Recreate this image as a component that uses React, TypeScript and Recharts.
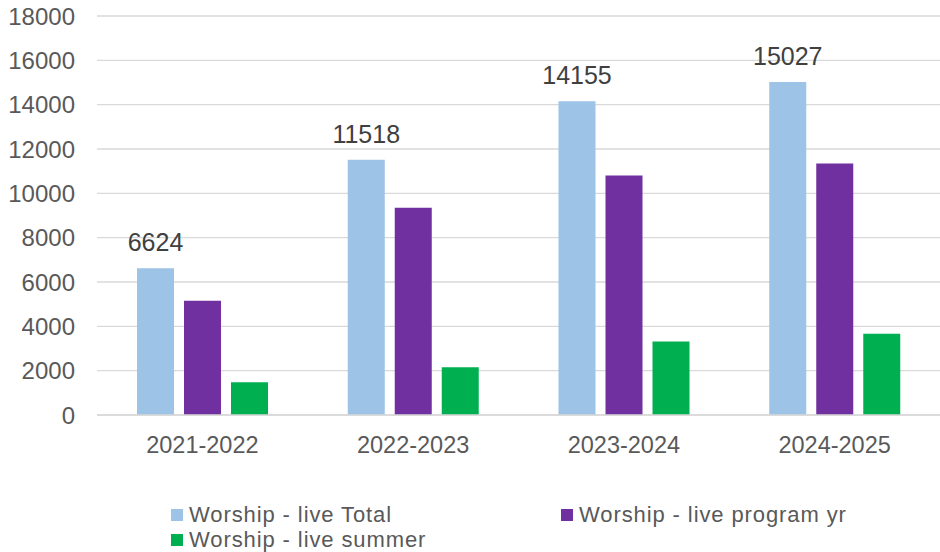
import { BarChart, Bar, XAxis, YAxis, CartesianGrid, LabelList } from "recharts";

const years = ["2021-2022", "2022-2023", "2023-2024", "2024-2025"];
const liveTotal = [6624, 11518, 14155, 15027];
const liveProgramYr = [5150, 9350, 10810, 11350];
const liveSummer = [1480, 2150, 3320, 3670];
const yTicks = [0, 2000, 4000, 6000, 8000, 10000, 12000, 14000, 16000, 18000];

const series = [
  { key: "total", name: "Worship - live Total", color: "#9DC3E6" },
  { key: "program", name: "Worship - live program yr", color: "#7030A0" },
  { key: "summer", name: "Worship - live summer", color: "#00B050" },
];

const data = years.map((year, i) => ({
  year,
  total: liveTotal[i],
  program: liveProgramYr[i],
  summer: liveSummer[i],
}));

const FONT = "'Liberation Sans', Arial, sans-serif";

// legend rows, placed like the original (x, y of the row top)
const legendItems = [
  { s: series[0], x: 171, y: 503 },
  { s: series[1], x: 561, y: 503 },
  { s: series[2], x: 171, y: 528 },
];

export default function App() {
  return (
    <div style={{ position: "absolute", left: 0, top: 0, width: 940, height: 552, background: "#fff", fontFamily: FONT }}>
      <BarChart
        width={940}
        height={552}
        data={data}
        barSize={37}
        barGap={10}
        margin={{ top: 16, right: 0, left: 0, bottom: 97 }}
      >
        <CartesianGrid vertical={false} stroke="#d9d9d9" strokeWidth={1.3} />
        <XAxis
          dataKey="year"
          axisLine={{ stroke: "#d9d9d9", strokeWidth: 1.3 }}
          tickLine={false}
          tickSize={0}
          tickMargin={21}
          tick={{ fontSize: 23.5, fill: "#595959", fontFamily: FONT }}
          height={40}
        />
        <YAxis
          domain={[0, 18000]}
          ticks={yTicks}
          axisLine={false}
          tickLine={false}
          tickSize={0}
          tickMargin={22}
          width={97}
          tick={{ fontSize: 24, fill: "#595959", fontFamily: FONT }}
        />
        {series.map((s) => (
          <Bar key={s.key} dataKey={s.key} name={s.name} fill={s.color} isAnimationActive={false}>
            {s.key === "total" && (
              <LabelList dataKey="total" position="top" offset={17} fill="#404040" fontSize={25} fontFamily={FONT} />
            )}
          </Bar>
        ))}
      </BarChart>
      {legendItems.map(({ s, x, y }) => (
        <div
          key={s.key}
          style={{
            position: "absolute",
            left: x,
            top: y,
            height: 24,
            lineHeight: "24px",
            whiteSpace: "nowrap",
            display: "flex",
            alignItems: "center",
            fontSize: 22,
            color: "#595959",
          }}
        >
          <span style={{ display: "inline-block", width: 12, height: 12, background: s.color, marginRight: 6 }} />
          <span style={{ lineHeight: "24px", letterSpacing: "0.9px" }}>{s.name}</span>
        </div>
      ))}
    </div>
  );
}
